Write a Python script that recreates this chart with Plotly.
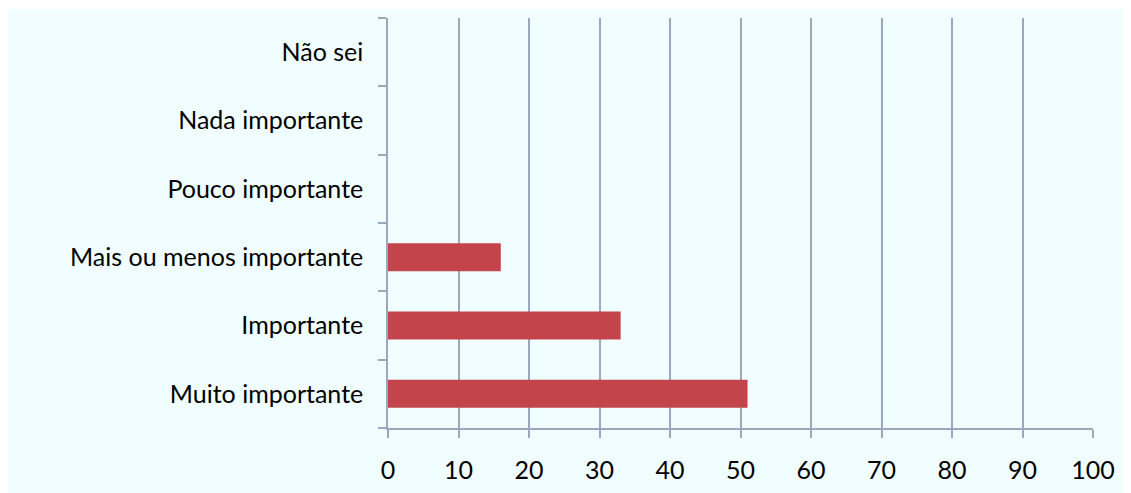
import plotly.graph_objects as go

categories = ["Muito importante", "Importante", "Mais ou menos importante",
              "Pouco importante", "Nada importante", "Não sei"]
values = [51, 33, 16, 0, 0, 0]
x_ticks = [0, 10, 20, 30, 40, 50, 60, 70, 80, 90, 100]

# page body has an 8px margin; figure starts at (8, 8)
OFF = 8
W, H = 1131 - OFF, 493 - OFF
L, R, T, B = 388 - OFF, 38, 18 - OFF, 65
pw, ph = W - L - R, H - T - B

bg = "#F0FEFF"
grid = "#9AA7C0"
font = dict(family="Lato, Open Sans, sans-serif", size=25, color="#000000")

fig = go.Figure(go.Bar(
    x=values, y=categories, orientation="h",
    marker=dict(color="#C3444A", line=dict(width=0)),
    width=0.41,
))

fig.update_layout(
    width=W, height=H,
    margin=dict(l=L, r=R, t=T, b=B, autoexpand=False),
    paper_bgcolor=bg, plot_bgcolor=bg,
    font=font, showlegend=False,
    xaxis=dict(range=[0, 100], tickvals=x_ticks, ticktext=[str(v) for v in x_ticks],
               showgrid=True, gridcolor=grid, gridwidth=1.5,
               showline=True, linecolor=grid, linewidth=1.5,
               ticks="outside", ticklen=8, tickcolor=grid, tickwidth=1.5,
               ticklabelstandoff=11, zeroline=False, fixedrange=True,
               automargin=False),
    yaxis=dict(categoryorder="array", categoryarray=categories,
               showgrid=False, showline=True, linecolor=grid, linewidth=1.5,
               ticks="outside", ticklen=8, tickcolor=grid, tickwidth=1.5,
               tickson="boundaries", ticklabelstandoff=18, fixedrange=True,
               automargin=False),
    shapes=[
        dict(type="rect", xref="paper", yref="paper",
             x0=-L / pw - 0.01, x1=1 + R / pw + 0.01,
             y0=1 + (T - 1) / ph, y1=1 + T / ph + 0.01,
             fillcolor="white", line=dict(width=0), layer="above"),
    ],
)

fig.write_html("out.html")
